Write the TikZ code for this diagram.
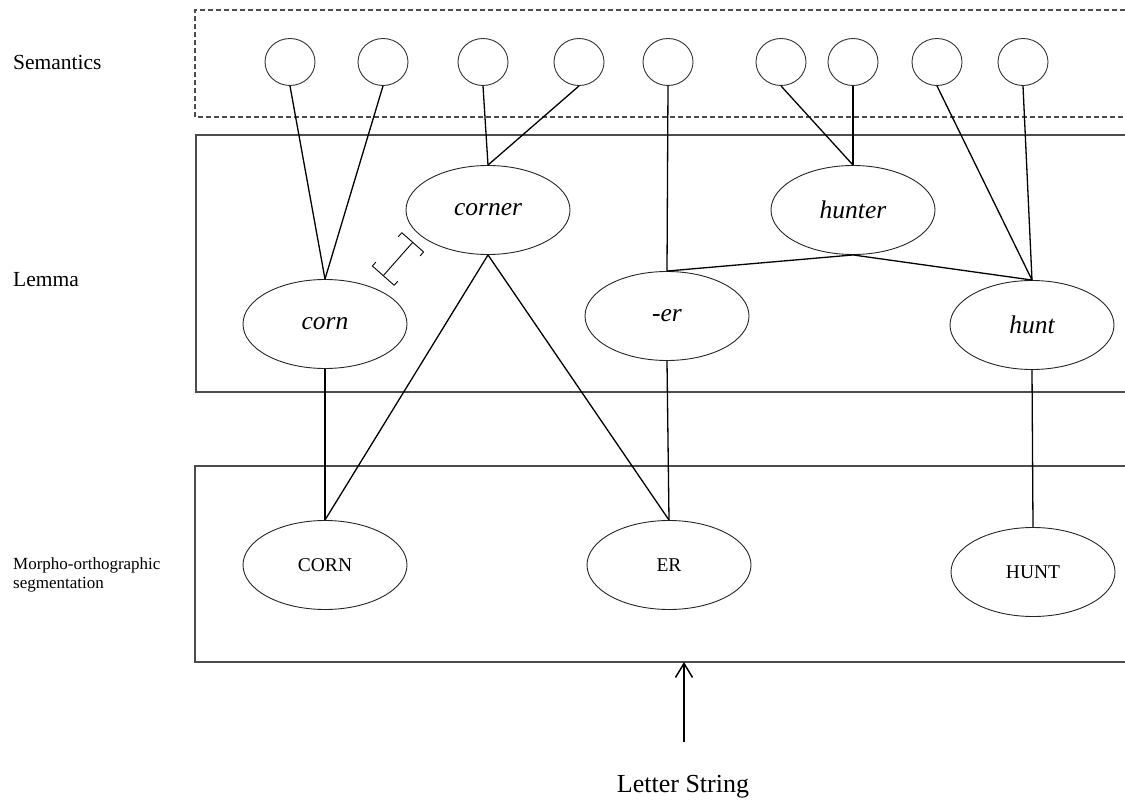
\documentclass[tikz,border=0pt]{standalone}
\usepackage{fontspec}
\setmainfont{Liberation Serif}
\usetikzlibrary{shapes.geometric,arrows.meta}
\tikzset{
  sem/.style={ellipse,draw=black!80,line width=0.9pt,minimum width=50pt,minimum height=47pt,inner sep=0pt},
  lem/.style={ellipse,draw=black!85,line width=0.9pt,minimum width=164pt,minimum height=89pt,inner sep=0pt,font=\fontsize{25.5}{30}\selectfont\itshape},
  morph/.style={ellipse,draw=black!85,line width=0.9pt,minimum width=164pt,minimum height=89pt,inner sep=0pt,font=\fontsize{19.5}{23}\selectfont},
  layerlabel/.style={inner sep=0pt,font=\fontsize{21.5}{25}\selectfont},
  link/.style={line width=1.3pt,black},
  layerbox/.style={line width=1.2pt,black!70},
  inhib/.style={line width=0.9pt,{Bracket[width=30pt,length=5pt,round]}-{Bracket[width=30pt,length=5pt,round]}}
}
\begin{document}
\begin{tikzpicture}[x=1pt,y=-1pt]
\useasboundingbox (0,0) rectangle (1125,805);
% layer boxes (open on the right)
\draw[layerbox,dash pattern=on 5pt off 3pt] (1125,10) -- (195,10) -- (195,117) -- (1125,117);
\draw[layerbox] (1125,135) -- (196,135) -- (196,392) -- (1125,392);
\draw[layerbox] (1125,466) -- (195,466) -- (195,662) -- (1125,662);
\coordinate (mbottom) at (684,662);
% layer labels
\node[layerlabel,anchor=base west] (labsem) at (13,70) {Semantics};
\node[layerlabel,anchor=base west] (lablem) at (13,287) {Lemma};
\node[inner sep=0pt,anchor=west,align=left,font=\fontsize{17}{18.5}\selectfont] (labmor) at (13,575) {Morpho-orthographic\\segmentation};
% semantic units
\node[sem] (s1) at (290,62) {};
\node[sem] (s2) at (383,62) {};
\node[sem] (s3) at (483,62) {};
\node[sem] (s4) at (579,62) {};
\node[sem] (s5) at (668,62) {};
\node[sem] (s6) at (781,62) {};
\node[sem] (s7) at (853,62) {};
\node[sem] (s8) at (937,62) {};
\node[sem] (s9) at (1023,62) {};
% lemma units
\node[lem] (corner) at (488,210) {corner};
\node[lem] (hunter) at (853,210) {hunter};
\node[lem] (corn) at (325,324) {corn};
\node[lem] (er) at (667,316) {-er};
\node[lem] (hunt) at (1032,325) {hunt};
% morpho-orthographic units
\node[morph] (CORN) at (325,565) {CORN};
\node[morph] (ER) at (669,565) {ER};
\node[morph] (HUNT) at (1033,572) {HUNT};
% semantics -> lemma
\draw[link] (s1.south) -- (corn.north);
\draw[link] (s2.south) -- (corn.north);
\draw[link] (s3.south) -- (corner.north);
\draw[link] (s4.south) -- (corner.north);
\draw[link] (s5.south) -- (er.north);
\draw[link] (s6.south) -- (hunter.north);
\draw[link] (s7.south) -- (hunter.north);
\draw[link] (s8.south) -- (hunt.north);
\draw[link] (s9.south) -- (hunt.north);
% lemma internal
\draw[link] (hunter.south) -- (er.north);
\draw[link] (hunter.south) -- (hunt.north);
% lemma -> morpho
\draw[link] (corn.south) -- (CORN.north);
\draw[link] (corner.south) -- (CORN.north);
\draw[link] (corner.south) -- (ER.north);
\draw[link] (er.south) -- (ER.north);
\draw[link] (hunt.south) -- (HUNT.north);
% inhibition
\coordinate (inhA) at (383,276);
\coordinate (inhB) at (413,242);
\draw[inhib] (inhA) -- (inhB);
% input
\node[inner sep=0pt,font=\fontsize{26}{30}\selectfont] (ls) at (683,787) {Letter String};
\coordinate (lsstart) at (684,742);
\draw[line width=1.5pt,-{Straight Barb[length=14pt,width=17pt,line width=1.5pt]}] (lsstart) -- (mbottom);
\end{tikzpicture}
\end{document}
